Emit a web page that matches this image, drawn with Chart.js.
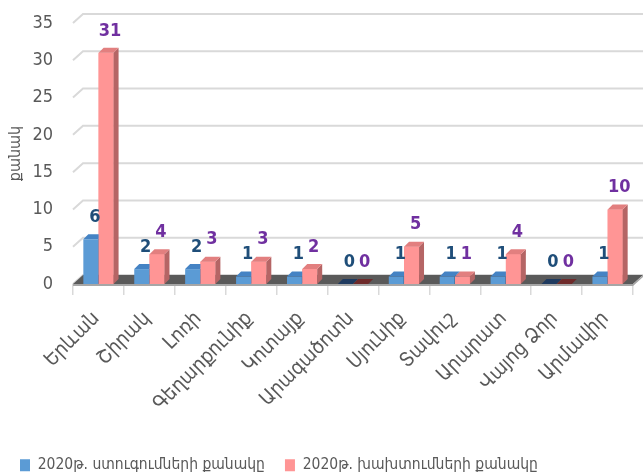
<!DOCTYPE html>
<html>
<head>
<meta charset="utf-8">
<script src="https://cdn.jsdelivr.net/npm/chart.js@4.4.1/dist/chart.umd.min.js"></script>
<style>body{margin:0;background:#fff}</style>
</head>
<body>
<canvas id="c" width="644" height="476"></canvas>
<script>
// regions of Armenia
const regions = ['Երևան', 'Շիրակ', 'Լոռի', 'Գեղարքունիք', 'Կոտայք', 'Արագածոտն',
    'Սյունիք', 'Տավուշ', 'Արարատ', 'Վայոց Ձոր', 'Արմավիր']
const inspections = [6, 2, 2, 1, 1, 0, 1, 1, 1, 0, 1]
const violations = [31, 4, 3, 3, 2, 0, 5, 1, 4, 0, 10]
const seriesNames = ['2020թ. ստուգումների քանակը', '2020թ. խախտումների քանակը']
const yTitle = 'քանակ'
const yMax = 35
const yStep = 5

const FONT = "'DejaVu Sans Condensed', 'DejaVu Sans', sans-serif"
const GREY = '#595959'
// depth of the back wall and of the bars
const WALL_DX = 10, WALL_DY = 9
const BAR_D = 5

var faces = [
    {front: '#5b9bd5', side: '#2f669f', top: '#4583c4', flat: '#1f3a5f', label: '#1f4e79'},
    {front: '#ff9595', side: '#b56565', top: '#e27f7f', flat: '#6e2a2a', label: '#7030a0'}
]

function poly(ctx, pts, fill) {
    ctx.beginPath()
    ctx.moveTo(pts[0][0], pts[0][1])
    for (var i = 1; i < pts.length; i++) ctx.lineTo(pts[i][0], pts[i][1])
    ctx.closePath()
    ctx.fillStyle = fill
    ctx.fill()
}

const fake3d = {
    id: 'fake3d',
    beforeDatasetsDraw(chart) {
        var ctx = chart.ctx
        var area = chart.chartArea
        var y = chart.scales.y
        ctx.save()
        // back wall grid lines
        ctx.strokeStyle = '#d9d9d9'
        ctx.lineWidth = 2
        y.ticks.forEach(t => {
            var py = y.getPixelForValue(t.value)
            ctx.beginPath()
            ctx.moveTo(area.left, py)
            ctx.lineTo(area.left + WALL_DX, py - WALL_DY)
            ctx.lineTo(area.right + WALL_DX, py - WALL_DY)
            ctx.stroke()
        })
        // floor
        var b = y.getPixelForValue(0)
        poly(ctx, [[area.left, b], [area.left + WALL_DX, b - WALL_DY],
            [area.right + WALL_DX, b - WALL_DY], [area.right, b]], '#5a5a5a')
        poly(ctx, [[area.left, b], [area.right, b], [area.right + WALL_DX, b - WALL_DY],
            [area.right + WALL_DX, b - WALL_DY + 2], [area.right, b + 2], [area.left, b + 2]], '#a6a6a6')
        ctx.restore()
    },
    afterDatasetsDraw(chart) {
        var ctx = chart.ctx
        ctx.save()
        var metas = [chart.getDatasetMeta(0), chart.getDatasetMeta(1)]
        regions.forEach((r, i) => {
            metas.forEach((meta, d) => {
                var bar = meta.data[i]
                var f = faces[d]
                var p = bar.getProps(['x', 'y', 'base', 'width'])
                var l = p.x - p.width / 2, rr = p.x + p.width / 2
                var val = chart.data.datasets[d].data[i]
                // pink front drawn again so it hides the blue side face
                if (d == 1) bar.draw(ctx)
                if (val == 0) {
                    poly(ctx, [[l, p.base], [l + BAR_D, p.base - BAR_D],
                        [rr + BAR_D, p.base - BAR_D], [rr, p.base]], f.flat)
                    return
                }
                poly(ctx, [[rr, p.y], [rr + BAR_D, p.y - BAR_D], [rr + BAR_D, p.base - BAR_D], [rr, p.base]], f.side)
                poly(ctx, [[l, p.y], [l + BAR_D, p.y - BAR_D], [rr + BAR_D, p.y - BAR_D], [rr, p.y]], f.top)
            })
        })
        // value labels
        ctx.font = 'bold 18px ' + FONT
        ctx.textAlign = 'center'
        ctx.textBaseline = 'middle'
        metas.forEach((meta, d) => {
            ctx.fillStyle = faces[d].label
            meta.data.forEach((bar, i) => {
                ctx.fillText(chart.data.datasets[d].data[i], bar.x + 4, bar.y - 22)
            })
        })
        ctx.restore()
    }
}

Chart.defaults.font.family = FONT

var chart = new Chart(document.getElementById('c'), {
    type: 'bar',
    data: {
        labels: regions,
        datasets: [
            {label: seriesNames[0], data: inspections, backgroundColor: faces[0].front, borderWidth: 0},
            {label: seriesNames[1], data: violations, backgroundColor: faces[1].front, borderWidth: 0}
        ]
    },
    options: {
        responsive: false,
        animation: false,
        devicePixelRatio: 1,
        categoryPercentage: 0.6,
        barPercentage: 0.98,
        layout: {padding: {top: 23, right: 11, left: 0, bottom: -7}},
        plugins: {
            tooltip: {enabled: false},
            legend: {
                position: 'bottom',
                align: 'start',
                labels: {
                    boxWidth: 10,
                    boxHeight: 12,
                    color: GREY,
                    font: {size: 15.5},
                    padding: 20
                }
            }
        },
        scales: {
            x: {
                grid: {offset: true, drawOnChartArea: false, tickLength: 11, color: '#d9d9d9', lineWidth: 1.5},
                border: {display: false},
                ticks: {minRotation: 45, maxRotation: 45, color: GREY, font: {size: 20}, padding: 12, labelOffset: -2},
                afterFit: s => { s.height = 153.5 }
            },
            y: {
                min: 0,
                max: yMax,
                grid: {display: false},
                border: {display: false},
                ticks: {stepSize: yStep, color: GREY, font: {size: 18}, padding: 12},
                title: {display: true, text: yTitle, color: GREY, font: {size: 16}, padding: {top: 6, bottom: 0}},
                afterFit: s => { s.width = 73 }
            }
        }
    },
    plugins: [fake3d]
})
</script>
</body>
</html>
